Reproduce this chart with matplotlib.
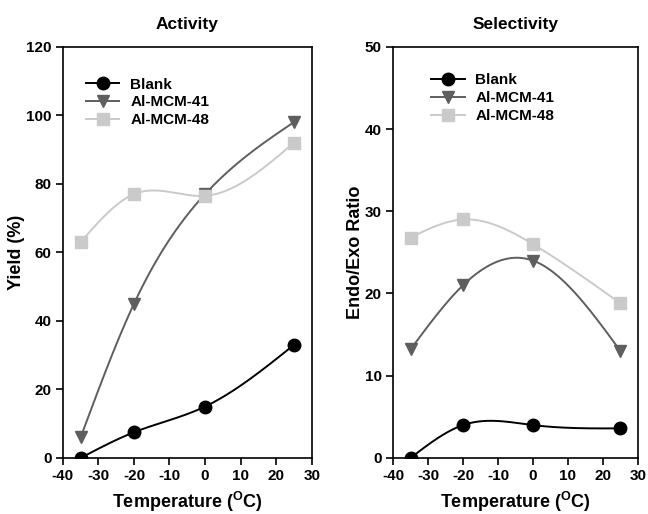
import numpy as np
import matplotlib
matplotlib.use("Agg")
import matplotlib.pyplot as plt

plt.rcParams['font.family'] = ['Liberation Sans', 'DejaVu Sans']
plt.rcParams['font.weight'] = 'bold'
plt.rcParams['axes.unicode_minus'] = False
plt.rcParams['mathtext.fontset'] = 'custom'
plt.rcParams['mathtext.bf'] = 'Liberation Sans:bold'
plt.rcParams['mathtext.rm'] = 'Liberation Sans:bold'

temps = [-35, -20, 0, 25]
series_names = ["Blank", "Al-MCM-41", "Al-MCM-48"]

yield_blank = [0, 7.5, 15, 33]
yield_mcm41 = [6, 45, 77, 98]
yield_mcm48 = [63, 77, 76.5, 92]

ratio_blank = [0, 4.0, 4.0, 3.6]
ratio_mcm41 = [13.2, 21, 24, 13]
ratio_mcm48 = [26.8, 29, 26, 18.8]

colors = ['#000000', '#5e5e5e', '#cacaca']
markers = ['o', 'v', 's']


def natural_spline(x, y, n=200):
    x = np.asarray(x, float)
    y = np.asarray(y, float)
    m = len(x)
    h = np.diff(x)
    A = np.zeros((m, m))
    b = np.zeros(m)
    A[0, 0] = 1
    A[-1, -1] = 1
    for i in range(1, m - 1):
        A[i, i - 1] = h[i - 1]
        A[i, i] = 2 * (h[i - 1] + h[i])
        A[i, i + 1] = h[i]
        b[i] = 3 * ((y[i + 1] - y[i]) / h[i] - (y[i] - y[i - 1]) / h[i - 1])
    c = np.linalg.solve(A, b)
    xs = np.linspace(x[0], x[-1], n)
    ys = np.empty_like(xs)
    for k, xv in enumerate(xs):
        i = min(np.searchsorted(x, xv, side='right') - 1, m - 2)
        dx = xv - x[i]
        bi = (y[i + 1] - y[i]) / h[i] - h[i] * (2 * c[i] + c[i + 1]) / 3
        di = (c[i + 1] - c[i]) / (3 * h[i])
        ys[k] = y[i] + bi * dx + c[i] * dx ** 2 + di * dx ** 3
    return xs, ys


fig = plt.figure(figsize=(6.48, 5.14), dpi=100)
ax1 = fig.add_axes([0.097, 0.109, 0.384, 0.80])
ax2 = fig.add_axes([0.6065, 0.109, 0.378, 0.80])

panels = [
    (ax1, [yield_blank, yield_mcm41, yield_mcm48], "Activity", "Yield (%)", (0, 120), np.arange(0, 121, 20), (0.068, 0.94)),
    (ax2, [ratio_blank, ratio_mcm41, ratio_mcm48], "Selectivity", "Endo/Exo Ratio", (0, 50), np.arange(0, 51, 10), (0.13, 0.95)),
]

for ax, data, title, ylabel, ylim, yticks, legpos in panels:
    for vals, name, col, mk in zip(data, series_names, colors, markers):
        xs, ys = natural_spline(temps, vals)
        ax.plot(xs, ys, color=col, lw=1.4, zorder=2)
        ax.plot(temps, vals, linestyle='none', marker=mk, color=col, markersize=9, zorder=3)
        ax.plot([], [], color=col, lw=1.4, marker=mk, markersize=9, label=name)
    ax.set_xlim(-40, 30)
    ax.set_ylim(*ylim)
    ax.set_xticks(np.arange(-40, 31, 10))
    ax.set_yticks(yticks)
    ax.tick_params(direction='out', length=5, width=1.2, labelsize=11, pad=3, top=False, right=False)
    for lab in ax.get_xticklabels() + ax.get_yticklabels():
        lab.set_fontweight('bold')
    for sp in ax.spines.values():
        sp.set_linewidth(1.2)
    ax.set_title(title, fontsize=12.5, fontweight='bold', pad=13)
    ax.set_ylabel(ylabel, fontsize=13, fontweight='bold', labelpad=1)
    ax.set_xlabel(r'Temperature ($^{\mathbf{O}}$C)', fontsize=13, fontweight='bold', labelpad=5)
    ax.legend(loc='upper left', bbox_to_anchor=legpos, frameon=False, fontsize=11,
              handlelength=2.2, handletextpad=0.7, labelspacing=0.25, borderaxespad=0)

fig.savefig("out.png", dpi=100)
